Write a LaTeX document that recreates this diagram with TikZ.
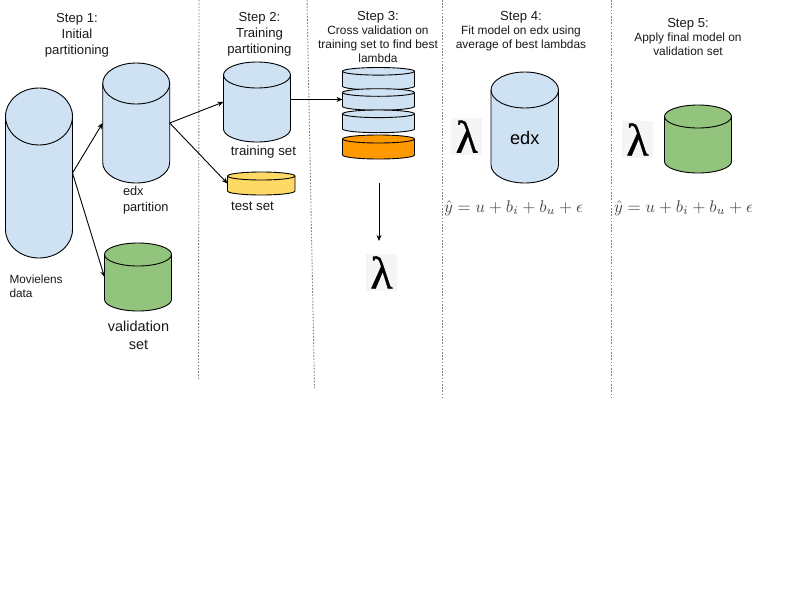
\documentclass[tikz,border=0pt]{standalone}
\usepackage{graphicx}
\usepackage{fontspec}
\setmainfont{Liberation Sans}
\newfontfamily\lamfont[FakeBold=0.7]{Liberation Serif}
\newcommand{\fsz}[1]{\fontsize{#1}{#1}\selectfont}
\definecolor{cblue}{HTML}{CFE2F3}
\definecolor{cgreen}{HTML}{93C47D}
\definecolor{cyellow}{HTML}{FFD966}
\definecolor{corange}{HTML}{FF9900}
\definecolor{ctext}{HTML}{1A1A1A}
\usetikzlibrary{arrows.meta}
\tikzset{
  cylline/.style={draw=black,line width=0.9pt,line join=round},
  lbl/.style={inner sep=0pt,outer sep=0pt,align=center,text=ctext},
  big/.style={lbl,font=\fsz{13.1}},
  sub/.style={lbl,font=\fsz{11.9}},
  sep/.style={draw=black!50,line width=0.9pt,dash pattern=on 1.6pt off 1.6pt},
  link/.style={draw=black,line width=0.9pt,-{Stealth[length=6pt,width=5pt]}},
  lam/.style={fill=black!4,inner sep=0pt,outer sep=0pt,minimum width=31pt,minimum height=37.5pt,text=black,font=\lamfont\fsz{46}},
  formula/.style={inner sep=0pt,outer sep=0pt,text=black!72},
}
\newcommand{\modelf}{\scalebox{1.69}{$\hat{y}=u+b_i+b_u+\epsilon$}}
% name, left, top, width, height, ellipse half-height, fill
\newcommand{\cylinder}[7]{%
  \pgfmathsetmacro\cylya{#3+#6}%
  \pgfmathsetmacro\cylrx{#4/2}%
  \pgfmathsetmacro\cylbody{#5-2*#6}%
  \node[inner sep=0pt,outer sep=0pt,minimum width=#4pt,minimum height=#5pt,anchor=north west] (#1) at (#2,#3) {};
  \path[cylline,fill=#7] (#2,\cylya)
    arc[start angle=180,end angle=0,x radius=\cylrx pt,y radius=#6pt]
    -- ++(0pt,-\cylbody pt)
    arc[start angle=0,end angle=-180,x radius=\cylrx pt,y radius=#6pt]
    -- cycle;
  \path[cylline] (#2,\cylya)
    arc[start angle=180,end angle=360,x radius=\cylrx pt,y radius=#6pt];
}
\begin{document}
\begin{tikzpicture}[x=1pt,y=-1pt]
\useasboundingbox (0,0) rectangle (800,600);
\fill[white] (0,0) rectangle (800,600);

% separators
\coordinate (s1a) at (199,0);   \coordinate (s1b) at (198.5,380);
\coordinate (s2a) at (307,0);   \coordinate (s2b) at (314.5,388);
\coordinate (s3a) at (442.5,0); \coordinate (s3b) at (442.5,397);
\coordinate (s4a) at (611,0);   \coordinate (s4b) at (611,397);
\draw[sep] (s1a) -- (s1b);
\draw[sep] (s2a) -- (s2b);
\draw[sep] (s3a) -- (s3b);
\draw[sep] (s4a) -- (s4b);

% headings
\node[big] (h1) at (77,35) {Step 1:\\[3pt]Initial\\[3pt]partitioning};
\node[big] (h2) at (259.5,34.5) {Step 2:\\[3pt]Training\\[3pt]partitioning};
\node[sub,anchor=north] (h3) at (378,11) {{\fsz{13.1}Step 3:}\\[2pt]Cross validation on\\[2.5pt]training set to find best\\[2.5pt]lambda};
\node[sub,anchor=north] (h4) at (521,11.5) {{\fsz{13.1}Step 4:}\\[2pt]Fit model on edx using\\[2.5pt]average of best lambdas};
\node[sub,anchor=north] (h5) at (688,18) {{\fsz{13.1}Step 5:}\\[2pt]Apply final model on\\[2.5pt]validation set};

% cylinders
\cylinder{movie}{5.5}{88}{67}{170}{28.5}{cblue}
\cylinder{edx}{102.7}{63}{67}{120}{20.5}{cblue}
\cylinder{valid}{104.5}{243}{67}{68}{11.5}{cgreen}
\cylinder{train}{223.5}{62}{67}{80}{13}{cblue}
\cylinder{test}{227.5}{172}{67.5}{23}{4}{cyellow}
\cylinder{foldA}{342.5}{67.5}{72}{22.5}{3.8}{cblue}
\cylinder{foldB}{342.5}{88.7}{72}{21.5}{3.8}{cblue}
\cylinder{foldC}{342.5}{110}{72}{22.7}{3.8}{cblue}
\cylinder{foldD}{342.5}{135}{72}{24}{4}{corange}
\cylinder{edxfit}{491}{72}{67.5}{111}{18}{cblue}
\cylinder{validfit}{664.5}{105}{67}{68}{11.5}{cgreen}

% labels
\node[lbl,font=\fsz{18.2},text=black] (edxname) at (524.7,137.5) {edx};
\node[lbl,font=\fsz{11.8},align=left,anchor=north west] (mlabel) at (9.5,274.5) {Movielens\\[3pt]data};
\node[lbl,font=\fsz{12.8},align=left,anchor=west] (elabel) at (123,200.5) {edx\\[3pt]partition};
\node[lbl,font=\fsz{14.5}] (vlabel) at (138.5,335.3) {validation\\[3.5pt]set};
\node[lbl,font=\fsz{13.3}] (tlabel) at (263.5,152.5) {training set};
\node[lbl,font=\fsz{13.3}] (slabel) at (252.5,206.5) {test set};

% lambdas
\node[lam] (lamA) at (466.8,136.6) {λ};
\node[lam] (lamB) at (637.5,139.5) {λ};
\node[lam] (lamC) at (381.5,272.5) {λ};

% formulas
\node[formula] (fA) at (513.5,208) {\modelf};
\node[formula] (fB) at (683.5,208) {\modelf};

% connectors
\coordinate (dropA) at (379,183);
\coordinate (dropB) at (379,241);
\draw[link] (movie.east) -- (edx.west);
\draw[link] (movie.east) -- (valid.west);
\draw[link] (edx.east) -- (train.west);
\draw[link] (edx.east) -- (test.west);
\draw[link] (train.east |- foldB.west) -- (foldB.west);
\draw[link] (dropA) -- (dropB);
\end{tikzpicture}
\end{document}
